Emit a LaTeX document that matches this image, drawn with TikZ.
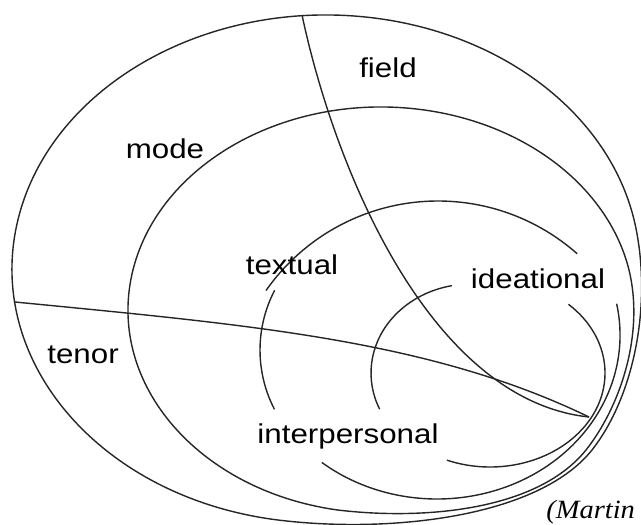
\documentclass[tikz,border=0pt]{standalone}
\usepackage{fontspec}
\usepackage{tikz}
\newfontfamily\lblfont{Liberation Sans}
\newfontfamily\srcfont{Liberation Serif}
\tikzset{
  ring/.style={line width=0.8pt,black!85},
  lbl/.style={font=\lblfont\fontsize{15.5}{18}\selectfont,xscale=1.15,anchor=base,inner sep=0pt},
}

\begin{document}
\begin{tikzpicture}[x=0.02cm,y=-0.02cm]
\useasboundingbox (0,0) rectangle (641,524);
%Key Coordinates
\coordinate (FieldTop) at (302,15);
\coordinate (TenorLeft) at (15,302);
\coordinate (Tip) at (589,417);

%Outer Ring (context)
\draw [ring] (326,269) ++(100:314 and 254) arc [start angle=100,end angle=350,x radius=314,y radius=254]
  .. controls (652,303) and (635,395) .. (592,450)
  .. controls (536,520) and (380,534) .. cycle;
%Inner Ring (language)
\draw [ring] (381,310) ++(100:253 and 203) arc [start angle=100,end angle=345,x radius=253,y radius=203]
  .. controls (647.6,323.9) and (623,403) .. (586,450)
  .. controls (536,512) and (420,520) .. cycle;

%Dividing Lines
\draw [ring] (FieldTop) .. controls (335,170) and (430,400) .. (Tip);
\draw [ring] (TenorLeft) .. controls (250,325) and (430,340) .. (Tip);

%Metafunction Arcs
\draw [ring] (438,411) ++(-145:210) arc [start angle=-145,end angle=-48.5,radius=210];
\draw [ring] (389,350) ++(152.6:129) arc [start angle=152.6,end angle=207.6,radius=129];
\draw [ring] (471,373) ++(156:100 and 89) arc [start angle=156,end angle=259,x radius=100,y radius=89];
\draw [ring] (490,373) ++(-47:115 and 94) arc [start angle=-47,end angle=112,x radius=115,y radius=94];
\draw [ring] (437,335) ++(-11:183 and 164) arc [start angle=-11,end angle=129,x radius=183,y radius=164];

%Labels
\node [lbl] (Field) at (388,77) {field};
\node [lbl] (Mode) at (165,158) {mode};
\node [lbl] (Tenor) at (83,363) {tenor};
\node [lbl] (Textual) at (292,274) {textual};
\node [lbl] (Ideational) at (538,288) {ideational};
\node [lbl] (Interpersonal) at (348,443) {interpersonal};
\node [anchor=base west,inner sep=0pt,xscale=1.08,font=\srcfont\itshape\fontsize{15}{18}\selectfont] (Source) at (546,518) {(Martin};
\end{tikzpicture}
\end{document}
